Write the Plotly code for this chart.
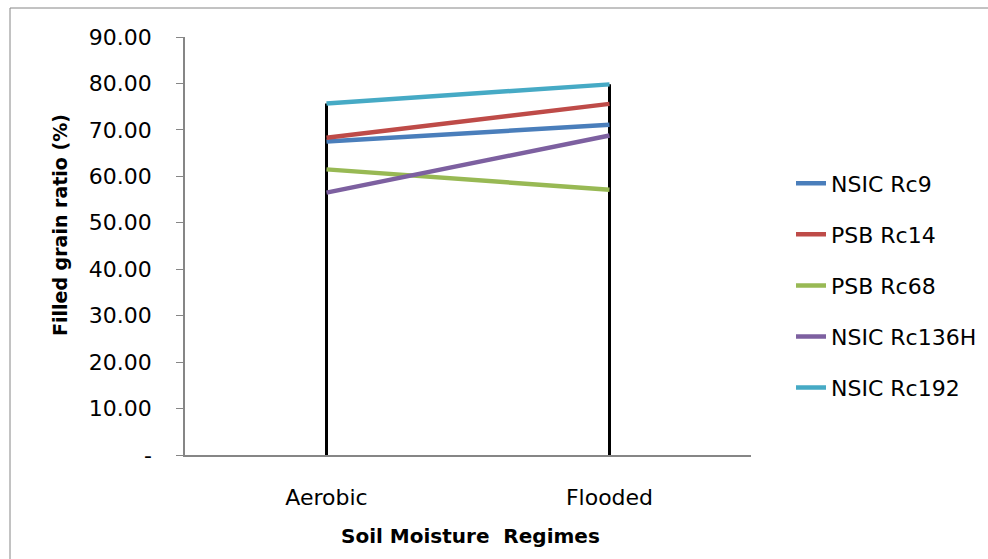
import plotly.graph_objects as go

# Filled grain ratio (%) by soil moisture regime for five rice varieties
regimes = ["Aerobic", "Flooded"]
nsic_rc9 = [67.5, 71.1]
psb_rc14 = [68.3, 75.6]
psb_rc68 = [61.5, 57.1]
nsic_rc136h = [56.5, 68.8]
nsic_rc192 = [75.7, 79.8]

varieties = ["NSIC Rc9", "PSB Rc14", "PSB Rc68", "NSIC Rc136H", "NSIC Rc192"]
series = [nsic_rc9, psb_rc14, psb_rc68, nsic_rc136h, nsic_rc192]
colors = ["#4A7EBB", "#BE4B48", "#98B954", "#7D60A0", "#46AAC5"]

y_ticks = [0, 10, 20, 30, 40, 50, 60, 70, 80, 90]
y_ticktext = ["-"] + [f"{v:.2f}" for v in y_ticks[1:]]

FONT = "DejaVu Sans"
AXIS_GREY = "#868686"

fig = go.Figure()

# Drop lines: from the axis up to the highest value in each category
drop_x, drop_y = [], []
for i, cat in enumerate(regimes):
    top = max(s[i] for s in series)
    drop_x += [cat, cat, None]
    drop_y += [0, top, None]
fig.add_trace(go.Scatter(
    x=drop_x, y=drop_y, mode="lines",
    line=dict(color="black", width=3),
    showlegend=False, hoverinfo="skip",
))

for name, vals, col in zip(varieties, series, colors):
    fig.add_trace(go.Scatter(
        x=regimes, y=vals, mode="lines", name=name,
        legendgroup=name,
        line=dict(color=col, width=4.5),
    ))

fig.update_layout(
    width=988, height=559,
    margin=dict(l=185, r=237, t=37, b=104, autoexpand=False),
    paper_bgcolor="white", plot_bgcolor="white",
    font=dict(family=FONT, size=22, color="black"),
    showlegend=True,
    legend=dict(
        x=(791 - 185) / 566, xanchor="left", y=0.70, yanchor="top",
        font=dict(family=FONT, size=22, color="black"),
        tracegroupgap=19.5, bgcolor="rgba(0,0,0,0)",
    ),
    xaxis=dict(
        type="category", range=[-0.5, 1.5],
        showline=True, linecolor=AXIS_GREY, linewidth=1.5,
        ticks="", showgrid=False, zeroline=False,
        tickfont=dict(family=FONT, size=22),
        ticklabelstandoff=22,
    ),
    yaxis=dict(
        range=[0, 90], tickvals=y_ticks, ticktext=y_ticktext,
        showline=True, linecolor=AXIS_GREY, linewidth=1.5,
        ticks="outside", ticklen=7, tickcolor=AXIS_GREY,
        showgrid=False, zeroline=False,
        tickfont=dict(family=FONT, size=22),
        ticklabelstandoff=20,
    ),
    shapes=[dict(
        type="rect", xref="paper", yref="paper",
        x0=(10 - 185) / 566, x1=(995 - 185) / 566,
        y0=(455 - 565) / 418, y1=(455 - 8) / 418,
        line=dict(color=AXIS_GREY, width=1), fillcolor="rgba(0,0,0,0)",
        layer="below",
    )],
    annotations=[
        dict(text="<b>Filled grain ratio (%)</b>", textangle=-90,
             xref="paper", yref="paper",
             x=(60 - 185) / 566, y=(455 - 225) / 418,
             xanchor="center", yanchor="middle",
             showarrow=False, font=dict(family=FONT, size=19)),
        dict(text="<b>Soil Moisture  Regimes</b>",
             xref="paper", yref="paper",
             x=(470 - 185) / 566, y=(455 - 536) / 418,
             xanchor="center", yanchor="middle",
             showarrow=False, font=dict(family=FONT, size=20)),
    ],
)

fig.write_html("out.html")
